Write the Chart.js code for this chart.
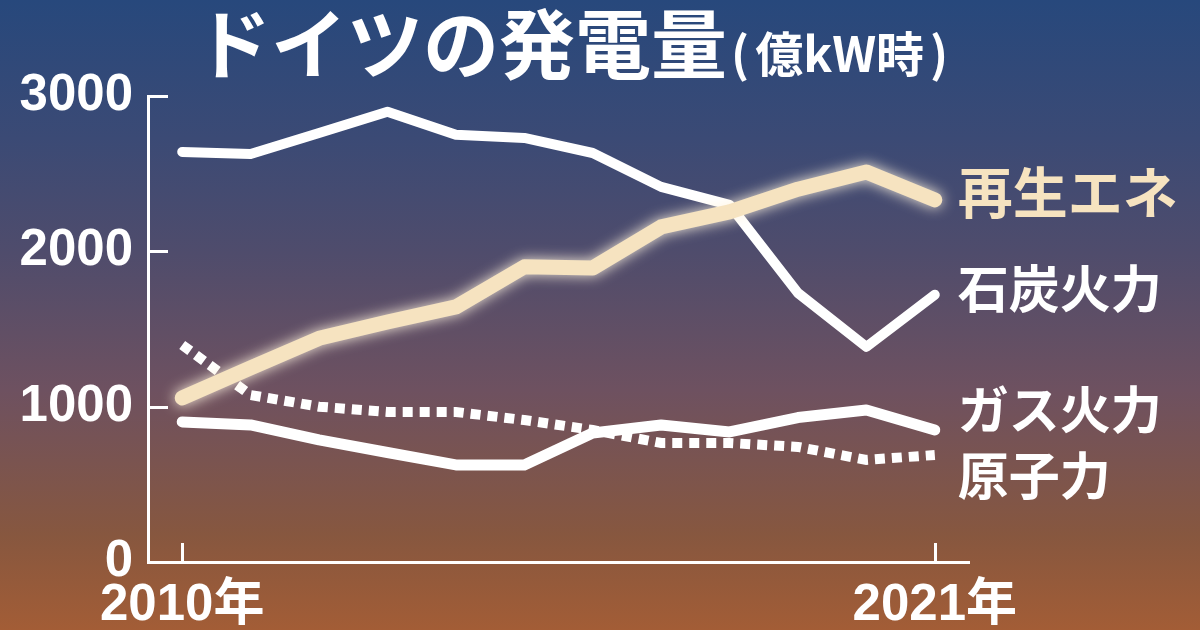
<!DOCTYPE html>
<html lang="ja">
<head>
<meta charset="utf-8">
<script src="https://cdn.jsdelivr.net/npm/chart.js@4.4.1/dist/chart.umd.min.js"></script>
<style>
html, body { margin: 0; padding: 0; }
body {
  width: 1200px; height: 630px; overflow: hidden;
  background: linear-gradient(to bottom, #27487c 0%, #3b4a75 22%, #4f4c6c 40%, #6e5160 62%, #87573f 85%, #a35d36 100%);
}
#wrap { position: relative; width: 1200px; height: 630px; }
</style>
</head>
<body>
<div id="wrap"><canvas id="chart" width="1200" height="630"></canvas></div>
<script>
// ドイツの発電量（億kW時）
const years = [2010, 2011, 2012, 2013, 2014, 2015, 2016, 2017, 2018, 2019, 2020, 2021];
const renewables = [1056, 1249, 1440, 1545, 1642, 1900, 1893, 2157, 2254, 2400, 2511, 2331];
const coal = [2640, 2627, 2762, 2898, 2750, 2730, 2633, 2415, 2299, 1732, 1385, 1720];
const gas = [902, 882, 786, 705, 625, 625, 830, 882, 837, 930, 979, 850];
const nuclear = [1397, 1075, 1000, 966, 966, 914, 850, 766, 766, 741, 657, 689];
const seriesNames = ["再生エネ", "石炭火力", "ガス火力", "原子力"];
const yTicks = [0, 1000, 2000, 3000];
const xTickYears = [2010, 2021];

const titleMain = "ドイツの発電量";
const titleUnit = ["(", "億kW時", ")"];

const numFont = "'Liberation Sans Narrow', 'Liberation Sans', 'Noto Sans CJK JP', sans-serif";
const jpFont = "'Noto Sans CJK JP', sans-serif";

function toPoints(values) {
  return values.map((v, i) => ({ x: years[i], y: v }));
}

const titlePlugin = {
  id: "titlePlugin",
  afterDraw(chart) {
    const ctx = chart.ctx;
    ctx.save();
    ctx.fillStyle = "#ffffff";
    ctx.textBaseline = "alphabetic";
    ctx.font = "bold 76px " + jpFont;
    ctx.fillText(titleMain, 195, 73);
    let x = 195 + ctx.measureText(titleMain).width + 4;
    ctx.font = "bold 48px " + jpFont;
    titleUnit.forEach((part, i) => {
      ctx.fillText(part, x, 72);
      x += ctx.measureText(part).width + (i < 2 ? 6 : 0);
    });
    ctx.restore();
  }
};

// tick marks point inward like the original
const innerTicks = {
  id: "innerTicks",
  afterDraw(chart) {
    const { ctx, scales: { x, y } } = chart;
    ctx.save();
    ctx.strokeStyle = "#ffffff";
    ctx.lineWidth = 3;
    ctx.beginPath();
    yTicks.forEach((v) => {
      if (v === 0) return;
      const py = Math.round(y.getPixelForValue(v)) + 0.5;
      ctx.moveTo(x.left, py);
      ctx.lineTo(x.left + 20, py);
    });
    xTickYears.forEach((v) => {
      const px = Math.round(x.getPixelForValue(v)) + 0.5;
      ctx.moveTo(px, y.bottom);
      ctx.lineTo(px, y.bottom - 19);
    });
    ctx.stroke();
    ctx.restore();
  }
};

// soft glow on the renewables line
const glow = {
  id: "glow",
  beforeDatasetDraw(chart, args) {
    if (args.index !== 0) return;
    const ctx = chart.ctx;
    ctx.save();
    ctx.shadowColor = "rgba(255, 244, 222, 0.95)";
    ctx.shadowBlur = 14;
  },
  afterDatasetDraw(chart, args) {
    if (args.index !== 0) return;
    chart.ctx.restore();
  }
};

const endLabels = {
  id: "endLabels",
  afterDatasetsDraw(chart) {
    const ctx = chart.ctx;
    chart.data.datasets.forEach((ds, i) => {
      const meta = chart.getDatasetMeta(i);
      const pt = meta.data[meta.data.length - 1];
      ctx.save();
      ctx.font = "bold " + ds.labelSize + "px " + jpFont;
      ctx.fillStyle = ds.labelColor;
      ctx.textBaseline = "middle";
      ctx.fillText(ds.label, pt.x + 23, pt.y + ds.labelDy);
      ctx.restore();
    });
  }
};

new Chart(document.getElementById("chart"), {
  type: "line",
  data: {
    datasets: [
      {
        label: seriesNames[0],
        data: toPoints(renewables),
        borderColor: "#f6e3c0",
        borderWidth: 15,
        borderCapStyle: "round",
        borderJoinStyle: "round",
        labelColor: "#f6e3c0",
        labelSize: 55,
        labelDy: -8,
      },
      {
        label: seriesNames[1],
        data: toPoints(coal),
        borderColor: "#ffffff",
        borderWidth: 10,
        borderCapStyle: "round",
        borderJoinStyle: "round",
        labelColor: "#ffffff",
        labelSize: 51,
        labelDy: -6,
      },
      {
        label: seriesNames[2],
        data: toPoints(gas),
        borderColor: "#ffffff",
        borderWidth: 11,
        borderCapStyle: "round",
        borderJoinStyle: "round",
        labelColor: "#ffffff",
        labelSize: 51,
        labelDy: -20,
      },
      {
        label: seriesNames[3],
        data: toPoints(nuclear),
        borderColor: "#ffffff",
        borderWidth: 10,
        borderDash: [10, 7],
        borderCapStyle: "butt",
        labelColor: "#ffffff",
        labelSize: 51,
        labelDy: 21,
      },
    ],
  },
  options: {
    responsive: false,
    animation: false,
    devicePixelRatio: 1,
    clip: false,
    layout: { padding: { left: 0, right: 231, top: 96, bottom: 0 } },
    elements: { point: { radius: 0 }, line: { tension: 0 } },
    plugins: { legend: { display: false }, tooltip: { enabled: false }, title: { display: false } },
    scales: {
      x: {
        type: "linear",
        min: 2009.5,
        max: 2021.5,
        afterBuildTicks: (s) => { s.ticks = xTickYears.map((v) => ({ value: v })); },
        afterFit: (s) => { s.height = 68; },
        grid: { display: false, drawTicks: false },
        border: { display: true, color: "#ffffff", width: 3 },
        ticks: {
          color: "#ffffff",
          padding: 13,
          maxRotation: 0,
          autoSkip: false,
          font: { family: numFont, size: 51, weight: "bold" },
          callback: (v) => v + "年",
        },
      },
      y: {
        min: 0,
        max: 3000,
        afterBuildTicks: (s) => { s.ticks = yTicks.map((v) => ({ value: v })); },
        afterFit: (s) => { s.width = 148; },
        grid: { display: false, drawTicks: false },
        border: { display: true, color: "#ffffff", width: 3 },
        ticks: {
          color: "#ffffff",
          padding: 15,
          font: { family: numFont, size: 51, weight: "bold" },
          callback: (v) => String(v),
        },
      },
    },
  },
  plugins: [glow, innerTicks, endLabels, titlePlugin],
});
</script>
</body>
</html>
